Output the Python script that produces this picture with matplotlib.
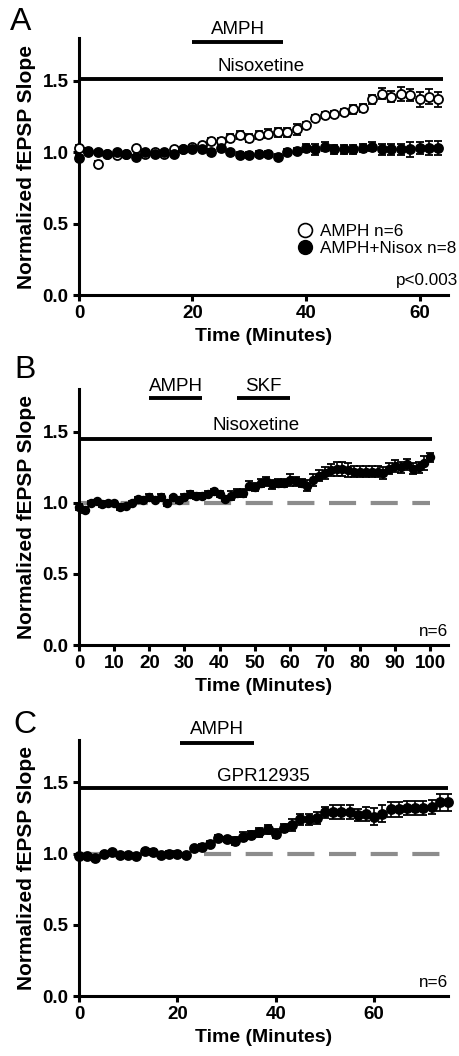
import numpy as np
import matplotlib
matplotlib.use("Agg")
import matplotlib.pyplot as plt
from matplotlib.lines import Line2D

plt.rcParams["font.family"] = ["Liberation Sans", "DejaVu Sans"]

STEP = 5.0 / 3.0  # one point every 1.67 min

# ---- panel A: AMPH alone vs AMPH + nisoxetine
a_open = [1.03, 1.01, 0.92, 0.99, 0.98, 0.99, 1.03, 0.99, 1.00, 0.99,
          1.02, 1.02, 1.04, 1.05, 1.08, 1.08, 1.10, 1.12, 1.10, 1.12,
          1.13, 1.14, 1.14, 1.16, 1.19, 1.24, 1.26, 1.27, 1.28, 1.30,
          1.31, 1.37, 1.41, 1.39, 1.41, 1.40, 1.37, 1.39, 1.37]
a_open_err = [0.02, 0.02, 0.02, 0.01, 0.01, 0.01, 0.01, 0.01, 0.01, 0.01,
              0.01, 0.01, 0.01, 0.01, 0.02, 0.02, 0.03, 0.03, 0.03, 0.03,
              0.03, 0.03, 0.03, 0.04, 0.02, 0.02, 0.02, 0.02, 0.02, 0.03,
              0.03, 0.03, 0.04, 0.04, 0.05, 0.04, 0.05, 0.05, 0.05]
a_fill = [0.96, 1.00, 1.00, 0.99, 1.00, 0.99, 0.97, 1.00, 0.99, 1.00,
          0.99, 1.02, 1.02, 1.02, 1.00, 1.03, 1.00, 0.98, 0.98, 0.99,
          0.99, 0.97, 1.00, 1.01, 1.03, 1.02, 1.04, 1.02, 1.02, 1.02,
          1.03, 1.04, 1.02, 1.02, 1.02, 1.02, 1.03, 1.03, 1.03]
a_fill_err = [0.02, 0.01, 0.01, 0.01, 0.01, 0.01, 0.01, 0.01, 0.01, 0.01,
              0.01, 0.01, 0.01, 0.01, 0.02, 0.01, 0.01, 0.02, 0.02, 0.02,
              0.02, 0.02, 0.02, 0.02, 0.03, 0.04, 0.03, 0.03, 0.03, 0.03,
              0.03, 0.03, 0.04, 0.04, 0.04, 0.05, 0.04, 0.05, 0.05]

# ---- panel B: AMPH then SKF under nisoxetine
b_vals = [0.97, 0.95, 1.00, 1.01, 0.99, 1.00, 1.00, 0.97, 0.98, 1.00,
          1.03, 1.02, 1.04, 1.02, 1.04, 1.00, 1.04, 1.02, 1.04, 1.06,
          1.05, 1.05, 1.06, 1.08, 1.06, 1.03, 1.05, 1.07, 1.07, 1.12,
          1.11, 1.14, 1.15, 1.13, 1.14, 1.14, 1.16, 1.15, 1.14, 1.12,
          1.16, 1.19, 1.21, 1.23, 1.24, 1.24, 1.23, 1.22, 1.22, 1.22,
          1.22, 1.22, 1.21, 1.24, 1.26, 1.25, 1.27, 1.24, 1.25, 1.28,
          1.32]
b_err = [0.02, 0.02, 0.01, 0.01, 0.02, 0.01, 0.01, 0.02, 0.01, 0.01,
         0.01, 0.02, 0.02, 0.01, 0.02, 0.02, 0.01, 0.02, 0.02, 0.02,
         0.02, 0.02, 0.02, 0.02, 0.02, 0.02, 0.03, 0.03, 0.03, 0.03,
         0.03, 0.03, 0.03, 0.03, 0.03, 0.03, 0.04, 0.03, 0.03, 0.04,
         0.04, 0.04, 0.04, 0.04, 0.05, 0.05, 0.05, 0.04, 0.04, 0.04,
         0.04, 0.04, 0.04, 0.04, 0.04, 0.04, 0.04, 0.04, 0.04, 0.05,
         0.03]

# ---- panel C: AMPH under GPR12935
c_vals = [0.98, 0.98, 0.97, 1.00, 1.01, 0.99, 0.99, 0.98, 1.02, 1.01,
          0.99, 1.00, 1.00, 0.99, 1.04, 1.05, 1.07, 1.11, 1.10, 1.09,
          1.12, 1.13, 1.15, 1.17, 1.14, 1.18, 1.20, 1.24, 1.24, 1.25,
          1.29, 1.29, 1.29, 1.29, 1.27, 1.28, 1.26, 1.28, 1.31, 1.31,
          1.32, 1.32, 1.32, 1.33, 1.36, 1.36]
c_err = [0.01, 0.01, 0.01, 0.01, 0.01, 0.01, 0.01, 0.01, 0.01, 0.02,
         0.01, 0.02, 0.02, 0.01, 0.01, 0.02, 0.02, 0.02, 0.02, 0.03,
         0.03, 0.03, 0.03, 0.03, 0.03, 0.03, 0.04, 0.04, 0.04, 0.04,
         0.04, 0.05, 0.05, 0.05, 0.04, 0.05, 0.06, 0.06, 0.05, 0.05,
         0.05, 0.05, 0.05, 0.05, 0.06, 0.06]

BASELINE = 1.0


def style(ax, xmax, xticks):
    ax.set_xlim(0, xmax)
    ax.set_ylim(0, 1.8)
    ax.set_yticks([0, 0.5, 1.0, 1.5])
    ax.set_yticklabels(["0.0", "0.5", "1.0", "1.5"])
    ax.set_xticks(xticks)
    for sp in ("top", "right"):
        ax.spines[sp].set_visible(False)
    for sp in ("left", "bottom"):
        ax.spines[sp].set_linewidth(2.2)
    ax.tick_params(direction="out", length=4.5, width=2.2, pad=3,
                   labelsize=13.5)
    for lab in ax.get_xticklabels() + ax.get_yticklabels():
        lab.set_fontweight("bold")
    ax.set_xlabel("Time (Minutes)", fontsize=14, fontweight="bold", labelpad=4)
    ax.set_ylabel("Normalized fEPSP Slope", fontsize=15, fontweight="bold",
                  labelpad=5)


def drug_bar(ax, x0, x1, y, label, ty):
    ax.plot([x0, x1], [y, y], color="black", lw=2.8, clip_on=False,
            solid_capstyle="butt")
    ax.text((x0 + x1) / 2, ty, label, ha="center", va="center",
            fontsize=13.5, clip_on=False)


def series(ax, y, err, filled=True, ms=6.5):
    t = np.arange(len(y)) * STEP
    ax.errorbar(t, y, yerr=err, fmt="o", ms=ms,
                mfc="black" if filled else "white", mec="black", mew=1.3,
                ecolor="black", elinewidth=1.2, capsize=2.8, capthick=1.2,
                clip_on=False, zorder=4)


def dashed(ax, x1):
    ax.plot([0, x1], [BASELINE, BASELINE], color="#8c8c8c", lw=3.0,
            dashes=(6.5, 3.5), zorder=2, clip_on=False)


fig = plt.figure(figsize=(4.6, 10.56), dpi=100)
L, W = 0.1717, 0.802

# A
axA = fig.add_axes([L, 0.7206, W, 0.2434])
series(axA, a_open, a_open_err, filled=False)
series(axA, a_fill, a_fill_err, filled=True)
style(axA, 65, [0, 20, 40, 60])
drug_bar(axA, 20, 36, 1.775, "AMPH", 1.86)
drug_bar(axA, 0, 64.2, 1.51, "Nisoxetine", 1.60)
handles = [Line2D([], [], ls="", marker="o", ms=10, mfc="white", mec="black",
                  mew=1.2, label="AMPH n=6"),
           Line2D([], [], ls="", marker="o", ms=10, mfc="black", mec="black",
                  label="AMPH+Nisox n=8")]
axA.legend(handles=handles, loc="center left", bbox_to_anchor=(0.565, 0.215),
           frameon=False, fontsize=12.3, handletextpad=0.3, labelspacing=0.15,
           handlelength=1.2, borderaxespad=0)
axA.text(1.027, 0.058, "p<0.003", transform=axA.transAxes, ha="right",
         va="center", fontsize=12.3)
fig.text(0.045, 0.979, "A", fontsize=23, ha="center", va="center")

# B
axB = fig.add_axes([L, 0.3892, W, 0.2424])
dashed(axB, 100)
series(axB, b_vals, b_err, filled=True, ms=5.5)
style(axB, 105, list(range(0, 101, 10)))
drug_bar(axB, 20, 35, 1.735, "AMPH", 1.82)
drug_bar(axB, 45, 60, 1.735, "SKF", 1.82)
drug_bar(axB, 0, 100.6, 1.45, "Nisoxetine", 1.545)
axB.text(1.0, 0.054, "n=6", transform=axB.transAxes, ha="right",
         va="center", fontsize=12.3)
fig.text(0.055, 0.650, "B", fontsize=23, ha="center", va="center")

# C
axC = fig.add_axes([L, 0.0568, W, 0.2427])
dashed(axC, 75.5)
series(axC, c_vals, c_err, filled=True)
style(axC, 75, [0, 20, 40, 60])
drug_bar(axC, 20.5, 35.6, 1.78, "AMPH", 1.875)
drug_bar(axC, 0, 75, 1.458, "GPR12935", 1.545)
axC.text(1.0, 0.054, "n=6", transform=axC.transAxes, ha="right",
         va="center", fontsize=12.3)
fig.text(0.055, 0.313, "C", fontsize=23, ha="center", va="center")

fig.savefig("out.png", dpi=100)
